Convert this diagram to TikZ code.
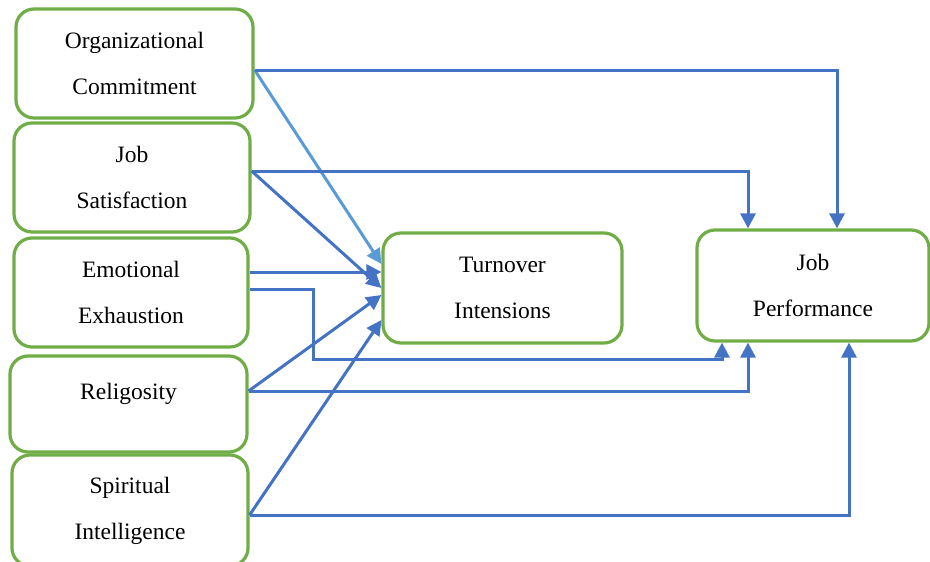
\documentclass[tikz,border=0pt]{standalone}
\usepackage{fontspec}
\setmainfont{Liberation Serif}
\usetikzlibrary{arrows.meta,calc}

\definecolor{boxgreen}{HTML}{70AD47}
\definecolor{linkblue}{HTML}{4472C4}
\definecolor{lightlink}{HTML}{5B9BD5}

\tikzset{
  factor/.style={draw=boxgreen, line width=3.2pt, rounded corners=18pt, fill=white,
    inner sep=0pt, align=center,
    font=\fontsize{23.5}{46}\selectfont},
  link/.style={draw=linkblue, line width=3pt,
    -{Triangle[length=15pt,width=15pt]}},
  lightarrow/.style={link, draw=lightlink, fill=lightlink,
    -{Triangle[length=15pt,width=15pt,fill=lightlink]}},
}

\begin{document}
\begin{tikzpicture}[x=1pt,y=-1pt]
  \useasboundingbox (0,0) rectangle (930,562);

  % predictor boxes
  \node[factor, minimum width=237pt, minimum height=109pt] (oc) at (134.5,63.5)
    {Organizational\\Commitment};
  \node[factor, minimum width=236pt, minimum height=109pt] (js) at (132,177.5)
    {Job\\Satisfaction};
  \node[factor, minimum width=234pt, minimum height=109pt] (ee) at (131,292.5)
    {Emotional\\Exhaustion};
  \node[factor, minimum width=237pt, minimum height=96pt,
        text height=16pt, text depth=26pt] (rel) at (128.5,404)
    {Religosity};
  \node[factor, minimum width=236pt, minimum height=111pt] (si) at (130,510.5)
    {Spiritual\\Intelligence};

  % outcome boxes
  \node[factor, minimum width=239pt, minimum height=110pt] (ti) at (502.5,288)
    {Turnover\\Intensions};
  \node[factor, minimum width=232pt, minimum height=111pt] (jp) at (813,285.5)
    {Job\\Performance};

  % exit points on the predictor boxes
  \coordinate (oc-out) at ($(oc.east)+(0,6.5)$);
  \coordinate (js-out) at ($(js.east)+(0,-6.5)$);
  \coordinate (ee-out1) at ($(ee.east)+(0,-20.5)$);
  \coordinate (ee-out2) at ($(ee.east)+(0,-3.5)$);
  \coordinate (rel-out) at ($(rel.east)+(0,-13)$);
  \coordinate (si-out) at ($(si.east)+(0,4.5)$);

  % paths into Turnover Intensions
  \draw[lightarrow] (oc-out) -- ($(ti.west)+(0,-24)$);
  \draw[link] (js-out) -- ($(ti.west)+(0,0)$);
  \draw[link] (ee-out1) -- ($(ti.west)+(0,-16)$);
  \draw[link] (rel-out) -- ($(ti.west)+(0,7)$);
  \draw[link] (si-out) -- ($(ti.west)+(0,32)$);

  % paths into Job Performance
  \draw[link] (oc-out) -| ($(jp.north)+(24,0)$);
  \draw[link] (js-out) -| ($(jp.north)+(-65,0)$);
  \coordinate (ee-bend) at (313,289);
  \coordinate (ee-low) at (313,359);
  \draw[link] (ee-out2) -- (ee-bend) -- (ee-low) -| ($(jp.south)+(-91,0)$);
  \draw[link] (rel-out) -| ($(jp.south)+(-65,0)$);
  \draw[link] (si-out) -| ($(jp.south)+(36,0)$);
\end{tikzpicture}
\end{document}
